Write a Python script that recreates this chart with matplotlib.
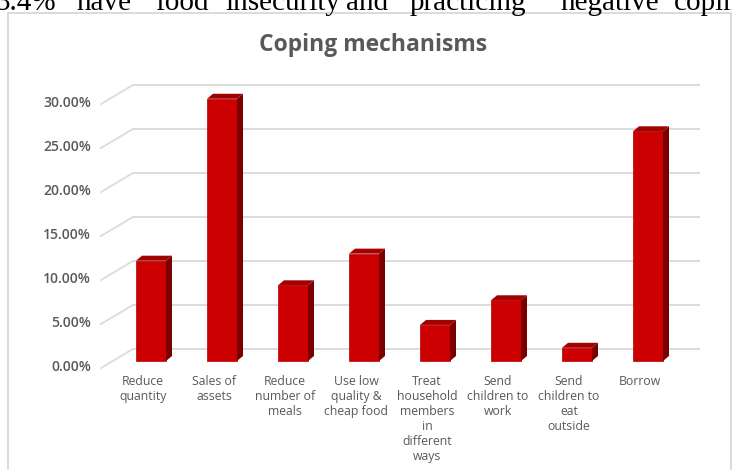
import numpy as np
import matplotlib.pyplot as plt
from matplotlib.patches import Polygon, Rectangle

categories = ["Reduce\nquantity", "Sales of\nassets", "Reduce\nnumber of\nmeals",
              "Use low\nquality &\ncheap food",
              "Treat\nhousehold\nmembers\nin\ndifferent\nways",
              "Send\nchildren to\nwork", "Send\nchildren to\neat\noutside", "Borrow"]
values = [11.4, 29.8, 8.6, 12.2, 4.1, 6.9, 1.5, 26.1]   # percent
yticks = [0, 5, 10, 15, 20, 25, 30]
title = "Coping mechanisms"
heading_words = ["3.4%", "have", "food", "insecurity", "and", "practicing", "negative", "coping"]
heading_x = [-4, 77, 155, 225, 346, 410, 560, 674]   # justified line of the document above

W, H = 732, 470
fig = plt.figure(figsize=(W / 100, H / 100), dpi=100)
ax = fig.add_axes([0, 0, 1, 1])

# layout in pixels: bar i front centre at X0 + STEP*i, value 0 at Y0, 1 % = PPU px
X0, STEP, Y0, PPU = 151, 71, 361, 8.8
ax.set_xlim(-X0 / STEP, (W - X0) / STEP)
ax.set_ylim((Y0 - H) / PPU, Y0 / PPU)
ax.axis('off')


def px(d):
    return d / STEP


def py(d):
    return d / PPU


grid_col = '#dcdcdc'
text_col = '#595959'
font = ['Open Sans', 'DejaVu Sans']

# back wall gridlines and floor diagonals
wall_up = py(12)
for g in yticks:
    yb = g + wall_up
    ax.plot([px(133 - X0), px(700 - X0)], [yb, yb], color=grid_col, lw=1.4, zorder=1,
            solid_capstyle='butt')
    ax.plot([px(101 - X0), px(133 - X0)], [yb - py(19), yb], color=grid_col, lw=1.3, zorder=1)
    ax.text(px(91 - X0), g - py(6), f"{g:.2f}%", ha='right', va='center',
            fontsize=10, color=text_col, family=font, fontweight='semibold')

# 3D-looking columns
bw, ddx, ddy = px(30), px(6), py(5)
x = np.arange(len(values))
ax.bar(x, values, width=bw, color='#cc0000', edgecolor='#b00000', lw=0.5, zorder=3)
for i, v in zip(x, values):
    x0, x1 = i - bw / 2, i + bw / 2
    side = Polygon([(x1, 0), (x1 + ddx, ddy), (x1 + ddx, v + ddy), (x1, v)],
                   closed=True, fc='#7a0000', ec='none', zorder=3)
    top = Polygon([(x0, v), (x1, v), (x1 + ddx, v + ddy), (x0 + ddx, v + ddy)],
                  closed=True, fc='#a30000', ec='none', zorder=3)
    ax.add_patch(side)
    ax.add_patch(top)

for i, lab in zip(x, categories):
    ax.text(i - px(8), -py(14), lab, ha='center', va='top', fontsize=8.8,
            color=text_col, family=font, linespacing=1.2)

ax.text(px(373 - X0), py(Y0 - 45), title, ha='center', va='center', fontsize=16.5,
        color=text_col, family=font, fontweight='bold')

# chart frame
fig.patches.append(Rectangle((8 / W, -0.02), (731 - 8) / W, 1 - 13 / H + 0.02,
                             transform=fig.transFigure, fill=False,
                             ec='#d4d4d4', lw=1.2))

# cut-off document line above the chart
for w, xp in zip(heading_words, heading_x):
    fig.text(xp / W, 1 - 10 / H, w, ha='left', va='baseline', fontsize=21,
             family='Liberation Serif', color='black')

fig.savefig('out.png', dpi=100)
